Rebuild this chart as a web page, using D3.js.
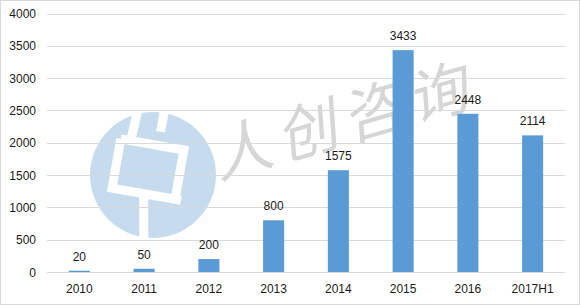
<!DOCTYPE html>
<html lang="zh">
<head>
  <meta charset="UTF-8">
  <title>Bar chart</title>
  <script src="https://d3js.org/d3.v7.min.js"></script>
  <style>
    body { margin: 0; background: #fff; }
    svg { font-family: "Liberation Sans", Arial, sans-serif; display: block; }
    .grid line { stroke: #d9d9d9; stroke-width: 1px; shape-rendering: crispEdges; }
    .tick-label { font-size: 12px; fill: #1a1a1a; }
  </style>
</head>
<body>
  <svg width="580" height="305"></svg>

  <script>
    const categories = ["2010", "2011", "2012", "2013", "2014", "2015", "2016", "2017H1"];
    const values = [20, 50, 200, 800, 1575, 3433, 2448, 2114];
    const yTicks = [0, 500, 1000, 1500, 2000, 2500, 3000, 3500, 4000];

    const data = categories.map((c, i) => ({ cat: c, value: values[i] }));

    const svg = d3.select("svg"),
      W = +svg.attr("width"),
      H = +svg.attr("height"),
      plotLeft = 47, plotRight = 565, plotTop = 13.5, plotBottom = 272;

    // outer border
    svg.append("rect")
      .attr("x", 0.5).attr("y", 0.5)
      .attr("width", W - 1).attr("height", H - 1)
      .attr("fill", "#fff")
      .attr("stroke", "#d9d9d9");

    // watermark (logo + name)
    const wm = svg.append("g");
    wm.append("circle")
      .attr("cx", 153).attr("cy", 175).attr("r", 63)
      .attr("fill", "#c6dbed");
    wm.append("path")
      .attr("transform", "translate(153,175) rotate(10)")
      .attr("d", "M-26,-64 L-28,-30 M-38,-30 L26,-30 L26,16 M-38,-30 L-38,20 L32,20 M-6,20 L2,64 M0,-64 L0,-44")
      .attr("fill", "none")
      .attr("stroke", "#fff")
      .attr("stroke-width", 9);
    wm.append("text")
      .attr("transform", "translate(348,125) rotate(-16) skewX(-12)")
      .attr("text-anchor", "middle")
      .attr("dominant-baseline", "middle")
      .attr("font-family", "'Noto Sans CJK SC', sans-serif")
      .attr("font-size", 60)
      .attr("letter-spacing", 8)
      .attr("fill", "#d6d6d6")
      .text("人创咨询");

    const x = d3.scaleBand()
      .domain(categories)
      .range([plotLeft, plotRight])
      .paddingInner(0.675)
      .paddingOuter(0.3375);

    const y = d3.scaleLinear()
      .domain([0, 4000])
      .range([plotBottom, plotTop]);

    // gridlines
    svg.append("g")
      .attr("class", "grid")
      .selectAll("line")
      .data(yTicks)
      .enter()
      .append("line")
      .attr("x1", plotLeft).attr("x2", plotRight)
      .attr("y1", d => Math.round(y(d)) + 0.5)
      .attr("y2", d => Math.round(y(d)) + 0.5);

    // Y axis labels
    svg.append("g")
      .selectAll("text")
      .data(yTicks)
      .enter()
      .append("text")
      .attr("class", "tick-label")
      .attr("x", 36)
      .attr("y", d => y(d) + 4.5)
      .attr("text-anchor", "end")
      .text(d => d);

    // X axis labels
    svg.append("g")
      .selectAll("text")
      .data(categories)
      .enter()
      .append("text")
      .attr("class", "tick-label")
      .attr("x", d => x(d) + x.bandwidth() / 2)
      .attr("y", 293)
      .attr("text-anchor", "middle")
      .text(d => d);

    // Bars
    svg.selectAll(".bar")
      .data(data)
      .enter()
      .append("rect")
      .attr("class", "bar")
      .attr("x", d => x(d.cat))
      .attr("y", d => y(d.value))
      .attr("width", x.bandwidth())
      .attr("height", d => plotBottom - y(d.value))
      .attr("fill", "#5b9bd5");

    // Value labels
    svg.selectAll(".bar-label")
      .data(data)
      .enter()
      .append("text")
      .attr("class", "tick-label")
      .attr("x", d => x(d.cat) + x.bandwidth() / 2)
      .attr("y", d => y(d.value) - 10)
      .attr("text-anchor", "middle")
      .text(d => d.value);
  </script>
</body>
</html>
